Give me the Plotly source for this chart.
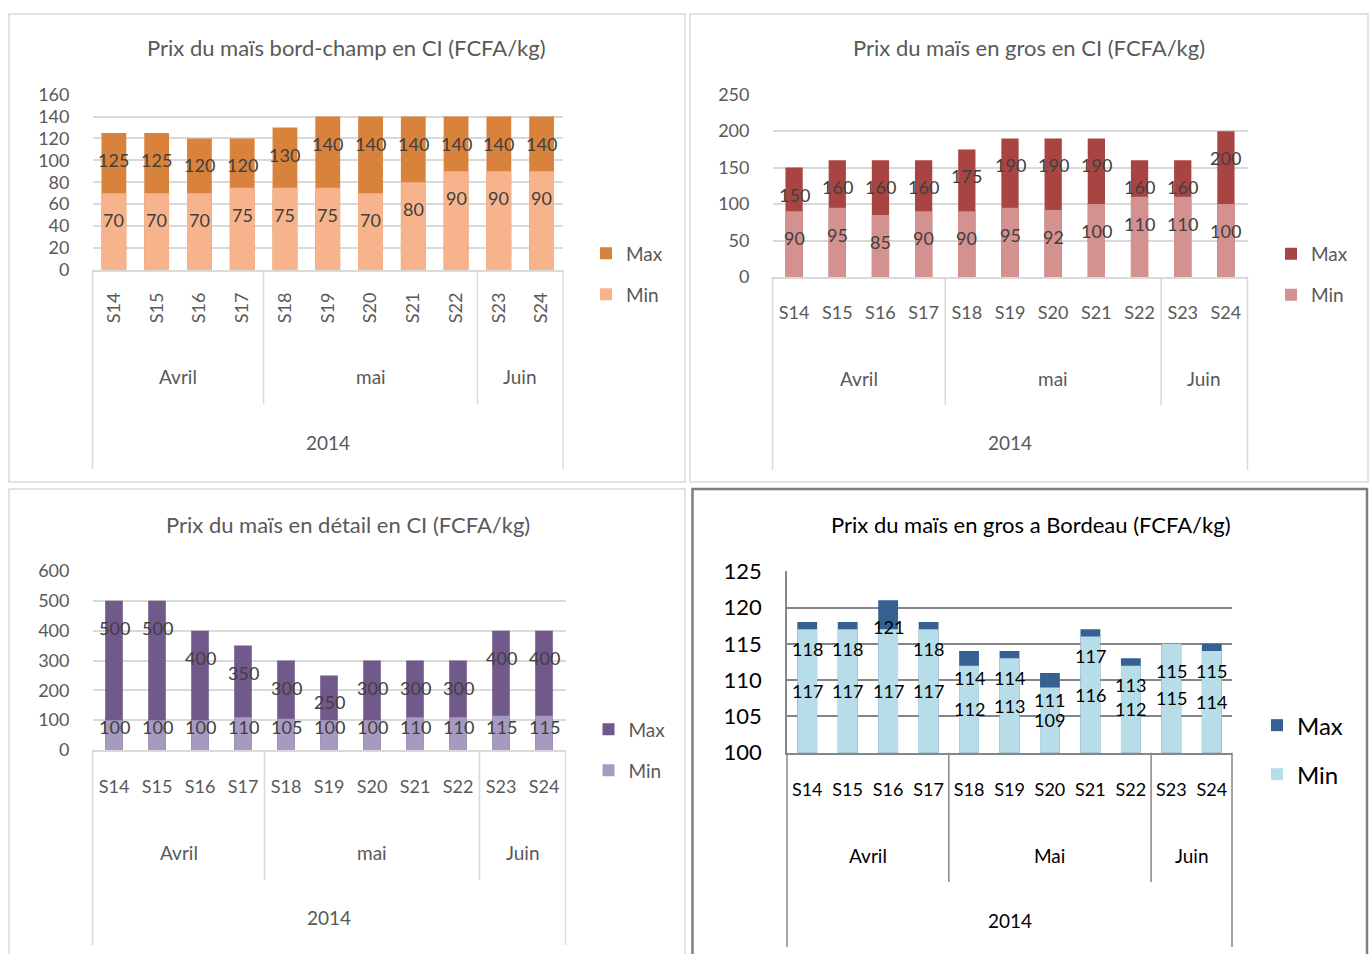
import plotly.graph_objects as go

W, H = 1371, 954

# ---------------- data ----------------
weeks = ["S14", "S15", "S16", "S17", "S18", "S19", "S20", "S21", "S22", "S23", "S24"]
month_names_ci = ["Avril", "mai", "Juin"]
month_names_bx = ["Avril", "Mai", "Juin"]
month_counts = [4, 5, 2]
year_label = "2014"

bord_champ_max = [125, 125, 120, 120, 130, 140, 140, 140, 140, 140, 140]
bord_champ_min = [70, 70, 70, 75, 75, 75, 70, 80, 90, 90, 90]
gros_ci_max = [150, 160, 160, 160, 175, 190, 190, 190, 160, 160, 200]
gros_ci_min = [90, 95, 85, 90, 90, 95, 92, 100, 110, 110, 100]
detail_max = [500, 500, 400, 350, 300, 250, 300, 300, 300, 400, 400]
detail_min = [100, 100, 100, 110, 105, 100, 100, 110, 110, 115, 115]
bordeau_max = [118, 118, 121, 118, 114, 114, 111, 117, 113, 115, 115]
bordeau_min = [117, 117, 117, 117, 112, 113, 109, 116, 112, 115, 114]

titles = [
    "Prix du maïs bord-champ en CI (FCFA/kg)",
    "Prix du maïs en gros en CI (FCFA/kg)",
    "Prix du maïs en détail en CI (FCFA/kg)",
    "Prix du maïs en gros a Bordeau (FCFA/kg)",
]
series_names = ["Max", "Min"]

# ---------------- panel layout / styles ----------------
FONT = "Lato"
panels = [
    dict(mx=bord_champ_max, mn=bord_champ_min, months=month_names_ci, title=titles[0],
         box=(9, 14, 685, 482), plot=(92.5, 94.7, 563, 269.7), yr=(0, 160, 20), barw=0.58,
         cmax="#D9823B", cmin="#F7B48C", txt="#595959", lbl="#404040", grid="#D9D9D9", gw=1.5,
         tickfont=18, yfont=18, ystand=22, angle=-90, tick_off=14, month_y=377, year_y=442, div_bot=404,
         out_bot=469, title_xy=(346.5, 47), leg=(604, 254, 295), legfont=19, min_mode="end",
         boxcol="#D9D9D9", boxw=1.5),
    dict(mx=gros_ci_max, mn=gros_ci_min, months=month_names_ci, title=titles[1],
         box=(690, 14, 1368, 482), plot=(772.5, 94.7, 1247.5, 277), yr=(0, 250, 50), barw=0.4,
         cmax="#A84542", cmin="#D39190", txt="#595959", lbl="#404040", grid="#D9D9D9", gw=1.5,
         tickfont=18, yfont=18, ystand=22, angle=0, tick_off=19, month_y=378, year_y=443, div_bot=405,
         out_bot=470, title_xy=(1029, 47), leg=(1289, 254.5, 295.5), legfont=19, min_mode="end",
         boxcol="#D9D9D9", boxw=1.5),
    dict(mx=detail_max, mn=detail_min, months=month_names_ci, title=titles[2],
         box=(9, 489, 685, 960), plot=(92.5, 571, 565.5, 750), yr=(0, 600, 100), barw=0.41,
         cmax="#72598C", cmin="#A79AC0", txt="#595959", lbl="#404040", grid="#D9D9D9", gw=1.5,
         tickfont=18, yfont=18, ystand=22, angle=0, tick_off=20, month_y=852, year_y=917, div_bot=880,
         out_bot=945, title_xy=(347.5, 524), leg=(606.5, 730, 771), legfont=19, min_mode="end",
         boxcol="#D9D9D9", boxw=1.5),
    dict(mx=bordeau_max, mn=bordeau_min, months=month_names_bx, title=titles[3],
         box=(692.5, 489, 1367, 960), plot=(787, 571.3, 1232, 752.7), yr=(100, 125, 5), barw=0.49,
         cmax="#366092", cmin="#B7DEE8", txt="#000000", lbl="#000000", grid="#868686", gw=1.5,
         tickfont=18, yfont=22, ystand=19, angle=0, tick_off=20, month_y=855, year_y=920, div_bot=882,
         out_bot=947, title_xy=(1030.5, 524), leg=(1275, 727, 776), legfont=24, min_mode="center",
         boxcol="#7F7F7F", boxw=2.5),
]


def xp(px):
    return px / W


def yp(py):
    return 1 - py / H


fig = go.Figure()
shapes, annotations = [], []
layout_upd = {}
n = len(weeks)

for i, p in enumerate(panels, start=1):
    sfx = "" if i == 1 else str(i)
    xa, ya = "x" + sfx, "y" + sfx
    leg = "legend" + sfx
    x0, y0, x1, y1 = p["plot"]
    ymin, ymax, dt = p["yr"]
    ppu = (y1 - y0) / (ymax - ymin)

    # bars: Max behind, Min in front
    for name, vals, col in ((series_names[0], p["mx"], p["cmax"]), (series_names[1], p["mn"], p["cmin"])):
        fig.add_trace(go.Bar(
            x=weeks, y=vals, name=name, xaxis=xa, yaxis=ya, legend=leg,
            legendgroup=f"{i}{name}", width=p["barw"], marker_color=col,
            marker_line_width=0, hoverinfo="x+y+name",
        ))

    # axes
    layout_upd["xaxis" + sfx] = dict(
        domain=[xp(x0), xp(x1)], anchor=ya, type="category", range=[-0.5, n - 0.5],
        showgrid=False, zeroline=False, showline=True, linecolor=p["grid"], linewidth=p["gw"],
        ticks="", tickangle=p["angle"], ticklabelstandoff=p["tick_off"], automargin=False,
        tickfont=dict(family=FONT, size=p["tickfont"], color=p["txt"]), fixedrange=True,
    )
    layout_upd["yaxis" + sfx] = dict(
        domain=[yp(y1), yp(y0)], anchor=xa, range=[ymin, ymax], dtick=dt, tick0=ymin,
        showgrid=True, gridcolor=p["grid"], gridwidth=p["gw"], zeroline=False,
        showline=(i == 4), linecolor=p["grid"], linewidth=p["gw"], automargin=False,
        ticks="", ticklabelstandoff=p["ystand"],
        tickfont=dict(family=FONT, size=p["yfont"], color=p["txt"]), fixedrange=True,
    )

    # legend
    lf = p["legfont"]
    item_h = 1.3 * lf + 3
    top_off = 0.86 * lf + 3.3
    layout_upd[leg] = dict(
        x=xp(p["leg"][0] - 18), y=yp(p["leg"][1] - top_off), xanchor="left", yanchor="top",
        bgcolor="rgba(0,0,0,0)", font=dict(family=FONT, size=lf, color=p["txt"]),
        traceorder="grouped", tracegroupgap=(p["leg"][2] - p["leg"][1]) - item_h,
        itemwidth=30, itemclick=False, itemdoubleclick=False,
    )

    # panel border
    bx0, by0, bx1, by1 = p["box"]
    shapes.append(dict(type="rect", xref="paper", yref="paper", x0=xp(bx0), x1=xp(bx1),
                       y0=yp(by1), y1=yp(by0), line=dict(color=p["boxcol"], width=p["boxw"]),
                       layer="below"))

    # title
    annotations.append(dict(text=p["title"], xref="paper", yref="paper", x=xp(p["title_xy"][0]),
                            y=yp(p["title_xy"][1]), xanchor="center", yanchor="middle", showarrow=False,
                            font=dict(family=FONT, size=22, color=p["txt"])))

    # multi-level category axis (months / year)
    step = (x1 - x0) / n
    shapes.append(dict(type="line", xref="paper", yref="paper", x0=xp(x0), x1=xp(x0), y0=yp(y1),
                       y1=yp(p["out_bot"]), line=dict(color=p["grid"], width=p["gw"])))
    shapes.append(dict(type="line", xref="paper", yref="paper", x0=xp(x1), x1=xp(x1), y0=yp(y1),
                       y1=yp(p["out_bot"]), line=dict(color=p["grid"], width=p["gw"])))
    start = 0
    for k, (mname, cnt) in enumerate(zip(p["months"], month_counts)):
        cx = x0 + (start + cnt / 2) * step
        annotations.append(dict(text=mname, xref="paper", yref="paper", x=xp(cx), y=yp(p["month_y"]),
                                xanchor="center", yanchor="middle", showarrow=False,
                                font=dict(family=FONT, size=19, color=p["txt"])))
        start += cnt
        if k < len(month_counts) - 1:
            dx = x0 + start * step
            shapes.append(dict(type="line", xref="paper", yref="paper", x0=xp(dx), x1=xp(dx),
                               y0=yp(y1), y1=yp(p["div_bot"]), line=dict(color=p["grid"], width=p["gw"])))
    annotations.append(dict(text=year_label, xref="paper", yref="paper", x=xp((x0 + x1) / 2),
                            y=yp(p["year_y"]), xanchor="center", yanchor="middle", showarrow=False,
                            font=dict(family=FONT, size=19, color=p["txt"])))

    # data labels
    for w, vmax, vmin in zip(weeks, p["mx"], p["mn"]):
        annotations.append(dict(text=str(vmax), x=w, y=vmax, xref=xa, yref=ya, showarrow=False,
                                yanchor="middle", yshift=-27,
                                font=dict(family=FONT, size=18, color=p["lbl"])))
        if p["min_mode"] == "center":
            ly, sh = (ymin + vmin) / 2, 0
        else:
            ly, sh = vmin, max(-27, 23 - (vmin - ymin) * ppu)
        annotations.append(dict(text=str(vmin), x=w, y=ly, xref=xa, yref=ya, showarrow=False,
                                yanchor="middle", yshift=sh,
                                font=dict(family=FONT, size=18, color=p["lbl"])))

fig.update_layout(
    width=W, height=H, margin=dict(l=0, r=0, t=0, b=0, pad=0, autoexpand=False), autosize=False,
    barmode="overlay", paper_bgcolor="white", plot_bgcolor="white",
    font=dict(family=FONT), shapes=shapes, annotations=annotations, **layout_upd,
)

fig.write_html("out.html", config={"displayModeBar": False},
               post_script="document.body.style.margin='0px';document.body.style.overflow='hidden';")
